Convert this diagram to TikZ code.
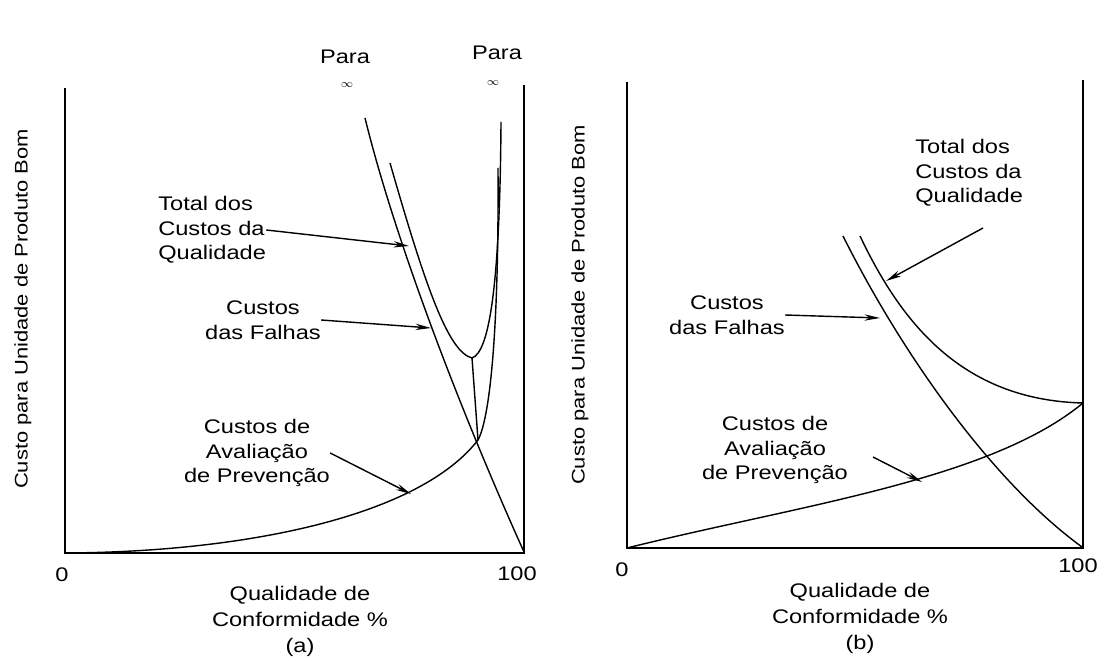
\documentclass[tikz,border=0pt]{standalone}
\usepackage{fontspec}
\setmainfont[FakeStretch=1.2]{Liberation Sans}
\usetikzlibrary{arrows.meta}

\begin{document}
\begin{tikzpicture}[
  x=0.025cm, y=-0.025cm,
  ax/.style={line width=1.4pt},
  c/.style={line width=1pt},
  lb/.style={font=\fontsize{14}{17.5}\selectfont, align=center, inner sep=0pt},
  tl/.style={font=\fontsize{14}{18.5}\selectfont, align=center, inner sep=0pt},
  yl/.style={font=\fontsize{13}{15}\selectfont, rotate=90, inner sep=0pt},
  e/.style={-{Stealth[length=11pt,width=4.5pt]}, line width=1pt}
]
\useasboundingbox (0,0) rectangle (1120,661);

% (a)
\draw[ax] (65,88) -- (65,553) -- (524,553) -- (524,85);
\node[yl] (ya) at (23,309) {Custo para Unidade de Produto Bom};
\node[lb] (za) at (62,575) {0};
\node[lb] (ha) at (517,574) {100};
\node[tl] (qa) at (300,621) {Qualidade de\\Conformidade \%\\(a)};
\node[lb] (p1) at (345,57) {Para};
\node[font=\footnotesize, inner sep=0pt] (i1) at (347,85) {$\infty$};
\node[lb] (p2) at (497,53) {Para};
\node[font=\footnotesize, inner sep=0pt] (i2) at (493,83) {$\infty$};

\coordinate (mina) at (472,358);
\coordinate (cra) at (478,440);
\draw[c] (365,118) .. controls (395,240) and (460,410) .. (524,552);
\draw[c] (390,163) .. controls (425,285) and (448,352) .. (mina)
  .. controls (490,352) and (500,280) .. (501,122);
\draw[c] (65,553) .. controls (250,552) and (420,515) .. (cra)
  .. controls (490,418) and (499,330) .. (498,168);
\draw[c] (mina) -- (cra);

\node[lb, align=left, anchor=west] (tqa) at (158,230) {Total dos\\Custos da\\Qualidade};
\node[lb] (cfa) at (263,320) {Custos\\das Falhas};
\node[lb] (caa) at (257,453) {Custos de\\Avaliação\\de Prevenção};
\coordinate (tqa1) at (409,246);
\coordinate (cfa1) at (431,328);
\coordinate (caa1) at (411,494);
\draw[e] (tqa.east) -- (tqa1);
\draw[e] (cfa.east) -- (cfa1);
\draw[e] (caa.east) -- (caa1);

% (b)
\draw[ax] (627,82) -- (627,548) -- (1083,548) -- (1083,80);
\node[yl] (yb) at (580,305) {Custo para Unidade de Produto Bom};
\node[lb] (zb) at (622,570) {0};
\node[lb] (hb) at (1078,566) {100};
\node[tl] (qb) at (860,618) {Qualidade de\\Conformidade \%\\(b)};

\draw[c] (843,236) .. controls (900,350) and (990,480) .. (1082,547);
\draw[c] (860,236) .. controls (900,320) and (960,400) .. (1083,403);
\draw[c] (627,548) .. controls (800,505) and (990,480) .. (1083,403);

\node[lb, align=left, anchor=west] (tqb) at (915,173) {Total dos\\Custos da\\Qualidade};
\node[lb] (cfb) at (727,315) {Custos\\das Falhas};
\node[lb] (cab) at (775,450) {Custos de\\Avaliação\\de Prevenção};
\coordinate (tqb0) at (983,228);
\coordinate (tqb1) at (886,281);
\coordinate (cfb1) at (880,318);
\coordinate (cab0) at (873,457);
\coordinate (cab1) at (922,482);
\draw[e] (tqb0) -- (tqb1);
\draw[e] (cfb.east) -- (cfb1);
\draw[e] (cab0) -- (cab1);
\end{tikzpicture}
\end{document}
